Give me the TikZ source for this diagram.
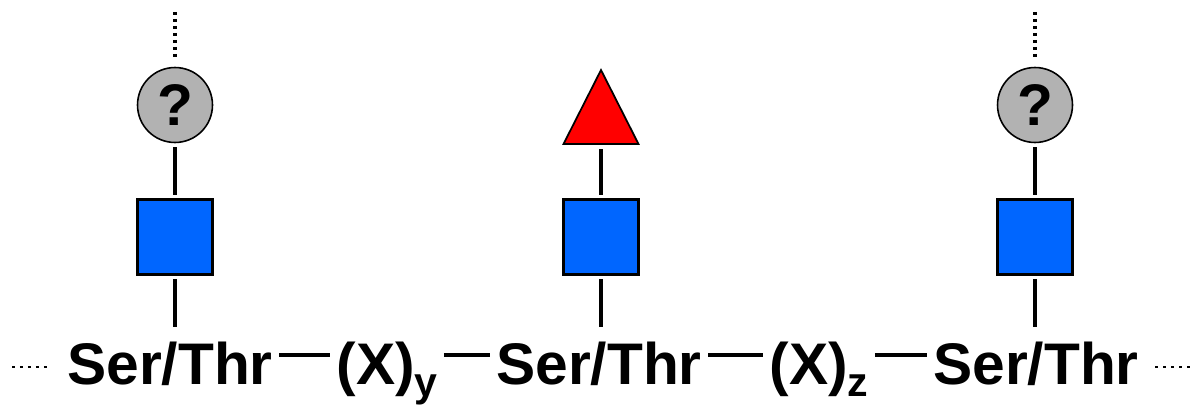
\documentclass[tikz,border=0pt]{standalone}
\usepackage{fontspec}
\setmainfont{Liberation Sans}
\usetikzlibrary{shapes.geometric}
\definecolor{glcblue}{RGB}{0,102,255}
\definecolor{fucred}{RGB}{255,0,0}
\newcommand\subtxt[1]{\raisebox{-0.24cm}{\fontsize{23.4}{24}\selectfont #1}}
\begin{document}
\begin{tikzpicture}[x=0.02cm, y=-0.02cm,
    every node/.style={font=\fontsize{33.4}{40}\selectfont\bfseries},
    res/.style={anchor=base, inner xsep=0.12cm},
    glcnac/.style={draw, fill=glcblue, line width=1.4pt, minimum size=1.5cm, inner sep=0, outer sep=0.1cm},
    unk/.style={circle, draw, fill=black!30, line width=0.9pt, minimum size=1.5cm, inner sep=0, outer sep=0.1cm},
    fuc/.style={isosceles triangle, isosceles triangle stretches, shape border rotate=90, draw, fill=fucred,
      line width=1pt, minimum width=1.5cm, minimum height=1.48cm, inner sep=0, outer sep=0.1cm, anchor=lower side},
    link/.style={line width=2.2pt},
    bond/.style={line width=1.9pt},
    dots/.style={line width=1.7pt, dash pattern=on 0.06cm off 0.1cm},
    vdots/.style={line width=2.2pt, dash pattern=on 0.07cm off 0.07cm}]
  \useasboundingbox (0,0) rectangle (1202,405);
  \coordinate (lvl) at (0,355);
  % peptide backbone
  \node[res] (s1) at (170,384) {Ser/Thr};
  \node[res] (xy) at (387,384) {(X)\subtxt{y}};
  \node[res] (s2) at (599,384) {Ser/Thr};
  \node[res] (xz) at (819,384) {(X)\subtxt{z}};
  \node[res] (s3) at (1036,384) {Ser/Thr};
  \foreach \a/\b in {s1/xy, xy/s2, s2/xz, xz/s3}
    \draw[bond] (\a.east |- lvl) -- (\b.west |- lvl);
  \coordinate (endl) at (12,367);
  \coordinate (endr) at (1193,367);
  \draw[dots] (endl) -- ([xshift=-0.2cm]s1.west |- endl);
  \draw[dots] ([xshift=0.2cm]s3.east |- endr) -- (endr);
  % glycans
  \node[glcnac] (g1) at (175,237) {};
  \node[glcnac] (g2) at (601,237) {};
  \node[glcnac] (g3) at (1035,237) {};
  \node[unk] (u1) at (175,105) {?};
  \node[fuc] (f2) at (601,149) {};
  \node[unk] (u3) at (1035,105) {?};
  \foreach \g/\s in {g1/s1, g2/s2, g3/s3}
    \draw[link, shorten >=0.16cm] (\g) -- (\g |- \s.north);
  \draw[link] (g1) -- (u1);
  \draw[link] (g2) -- (f2);
  \draw[link] (g3) -- (u3);
  \coordinate (t1) at (175,12);
  \coordinate (t3) at (1035,12);
  \draw[vdots, shorten >=0.12cm] (t1) -- (u1);
  \draw[vdots, shorten >=0.12cm] (t3) -- (u3);
\end{tikzpicture}
\end{document}
